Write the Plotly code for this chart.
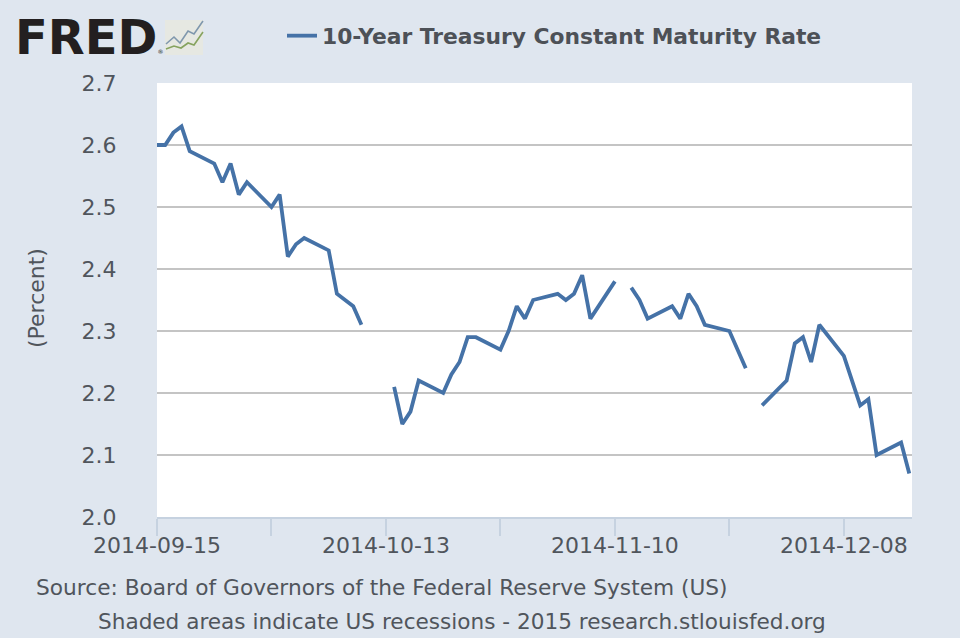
import plotly.graph_objects as go

W, H = 960, 638
L, R, T, B = 157, 912, 83, 517

dates = ["2014-09-15","2014-09-16","2014-09-17","2014-09-18","2014-09-19",
         "2014-09-22","2014-09-23","2014-09-24","2014-09-25","2014-09-26",
         "2014-09-29","2014-09-30","2014-10-01","2014-10-02","2014-10-03",
         "2014-10-06","2014-10-07","2014-10-08","2014-10-09","2014-10-10",
         "2014-10-13","2014-10-14","2014-10-15","2014-10-16","2014-10-17",
         "2014-10-20","2014-10-21","2014-10-22","2014-10-23","2014-10-24",
         "2014-10-27","2014-10-28","2014-10-29","2014-10-30","2014-10-31",
         "2014-11-03","2014-11-04","2014-11-05","2014-11-06","2014-11-07",
         "2014-11-10","2014-11-11","2014-11-12","2014-11-13","2014-11-14",
         "2014-11-17","2014-11-18","2014-11-19","2014-11-20","2014-11-21",
         "2014-11-24","2014-11-25","2014-11-26","2014-11-27","2014-11-28",
         "2014-12-01","2014-12-02","2014-12-03","2014-12-04","2014-12-05",
         "2014-12-08","2014-12-09","2014-12-10","2014-12-11","2014-12-12",
         "2014-12-15","2014-12-16"]
rates = [2.60,2.60,2.62,2.63,2.59,
         2.57,2.54,2.57,2.52,2.54,
         2.50,2.52,2.42,2.44,2.45,
         2.43,2.36,2.35,2.34,2.31,
         None,2.21,2.15,2.17,2.22,
         2.20,2.23,2.25,2.29,2.29,
         2.27,2.30,2.34,2.32,2.35,
         2.36,2.35,2.36,2.39,2.32,
         2.38,None,2.37,2.35,2.32,
         2.34,2.32,2.36,2.34,2.31,
         2.30,2.27,2.24,None,2.18,
         2.22,2.28,2.29,2.25,2.31,
         2.26,2.22,2.18,2.19,2.10,
         2.12,2.07]
x_tick_vals = ["2014-09-15","2014-09-29","2014-10-13","2014-10-27","2014-11-10","2014-11-24","2014-12-08"]
x_tick_text = ["2014-09-15","","2014-10-13","","2014-11-10","","2014-12-08"]
y_tick_vals = [2.0,2.1,2.2,2.3,2.4,2.5,2.6,2.7]
series_name = "10-Year Treasury Constant Maturity Rate"
source_lines = ["Source: Board of Governors of the Federal Reserve System (US)",
                "Shaded areas indicate US recessions - 2015 research.stlouisfed.org"]

BG = "#dfe6ef"
TXT = "#50555c"
FONT = "DejaVu Sans"

def px(x): return (x - L) / (R - L)
def py(y): return (B - y) / (B - T)
def pts(coords):
    return "M" + " L".join(f"{px(a):.4f},{py(b):.4f}" for a, b in coords)

fig = go.Figure(go.Scatter(x=dates, y=rates, mode="lines", name=series_name,
                           line=dict(color="#4572a7", width=3.8, shape="linear"),
                           connectgaps=False, showlegend=True))

fig.update_layout(
    width=W, height=H, autosize=False,
    paper_bgcolor=BG, plot_bgcolor="#ffffff",
    margin=dict(l=L, r=W-R, t=T, b=H-B, pad=0),
    font=dict(family=FONT, color=TXT),
    showlegend=True,
    legend=dict(orientation="h", x=px(282), xanchor="left", y=py(36), yanchor="middle",
                bgcolor="rgba(0,0,0,0)",
                itemwidth=30, font=dict(family=FONT, size=21.8, color="#4d5157", weight="bold")),
    xaxis=dict(type="date", range=["2014-09-15", "2014-12-16 08:00"],
               tickmode="array", tickvals=x_tick_vals, ticktext=x_tick_text,
               ticks="outside", ticklen=17, tickwidth=2, tickcolor="#c6d2e0",
               ticklabelstandoff=-9,
               showline=True, linecolor="#c6d2e0", linewidth=2,
               showgrid=False, zeroline=False,
               tickfont=dict(family=FONT, size=22, color=TXT)),
    yaxis=dict(range=[2.0, 2.7], tickmode="array", tickvals=y_tick_vals,
               tickformat=".1f", ticks="outside", ticklen=35, tickcolor="rgba(0,0,0,0)",
               showgrid=True, gridcolor="#c4c4c4", gridwidth=2, zeroline=False,
               showline=False, tickfont=dict(family=FONT, size=22, color=TXT)),
    annotations=[
        dict(text="(Percent)", x=px(36), y=py(298), xref="paper", yref="paper", textangle=-90,
             showarrow=False, xanchor="center", yanchor="middle",
             font=dict(family=FONT, size=22, color=TXT)),
        dict(text=source_lines[0], x=px(34), y=py(587), xref="paper", yref="paper",
             showarrow=False, xanchor="left", yanchor="middle",
             font=dict(family=FONT, size=21.7, color=TXT)),
        dict(text=source_lines[1], x=px(96), y=py(621), xref="paper", yref="paper",
             showarrow=False, xanchor="left", yanchor="middle",
             font=dict(family=FONT, size=21.6, color=TXT)),
        dict(text='<b>FRED</b><span style="font-size:6px">®</span>', x=px(13), y=py(37),
             xref="paper", yref="paper",
             showarrow=False, xanchor="left", yanchor="middle",
             font=dict(family=FONT, size=48, color="#231f20")),
    ],
    shapes=[
        dict(type="rect", xref="paper", yref="paper", x0=px(165), x1=px(203), y0=py(20), y1=py(55),
             fillcolor="#e6e8e2", line=dict(width=0), layer="below"),
        dict(type="path", xref="paper", yref="paper",
             path=pts([(166,44),(174,37),(180,43),(188,31),(194,34),(203,21)]),
             line=dict(color="#7f97ad", width=1.6)),
        dict(type="path", xref="paper", yref="paper",
             path=pts([(166,49),(174,46),(181,48),(188,43),(194,45),(203,32)]),
             line=dict(color="#86a35f", width=1.6)),
    ],
)

fig.write_html("out.html", config={"displayModeBar": False},
               post_script="document.body.style.margin='0';")
